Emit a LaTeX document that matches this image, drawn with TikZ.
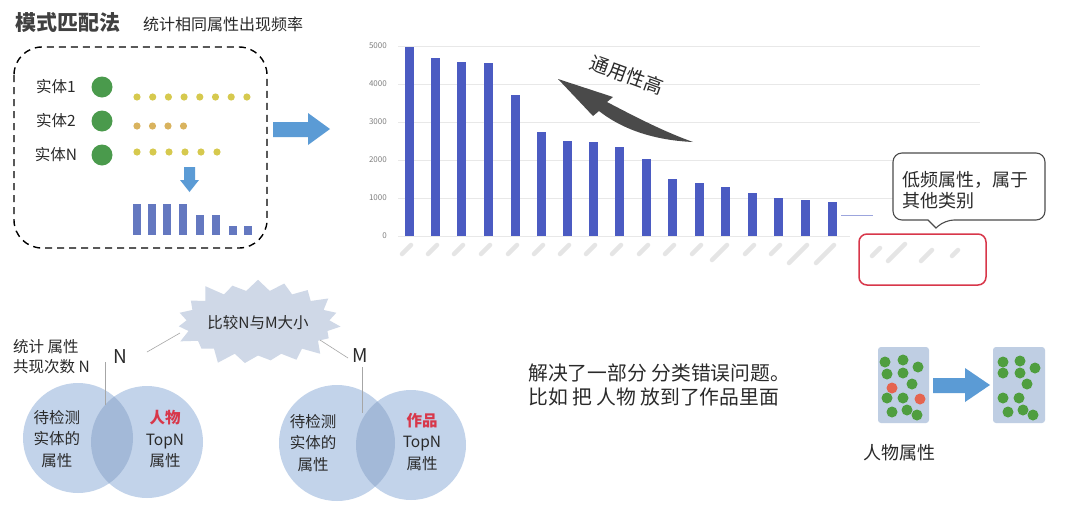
\documentclass[tikz,border=0pt]{standalone}
\usepackage{fontspec}
\setmainfont{Noto Sans CJK SC}
\usetikzlibrary{shapes.symbols}
\definecolor{barblue}{HTML}{4B5BC2}
\definecolor{smallbar}{HTML}{6478C0}
\definecolor{arrblue}{HTML}{5B9BD5}
\definecolor{dotgreen}{HTML}{4A9A4C}
\definecolor{dotyel}{HTML}{D6C94E}
\definecolor{dotorg}{HTML}{D9B35E}
\definecolor{venn}{HTML}{C2D3EA}
\definecolor{vennd}{HTML}{A3B9D8}
\definecolor{burst}{HTML}{CFD8E7}
\definecolor{redbox}{HTML}{D8374A}
\definecolor{txt}{HTML}{2A2A2A}
\definecolor{arrgray}{HTML}{4A4A4A}
\definecolor{cont}{HTML}{BFCEE3}
\definecolor{cgreen}{HTML}{4F9E3F}
\definecolor{cred}{HTML}{E5644F}
\newcommand\fz[2]{\fontsize{#1}{#2}\selectfont}
\begin{document}
\begin{tikzpicture}[x=1pt,y=-1pt,
  every node/.style={inner sep=0pt, text=txt},
  thinline/.style={draw=gray!70, line width=0.6pt},
  xlab/.style={draw=gray!20, line width=4.5pt, line cap=round},
  grid/.style={draw=gray!18, line width=1pt},
  ydot/.style={fill=dotyel},
  cdot/.style={fill=cgreen},
  rdot/.style={fill=cred}]
\useasboundingbox (0,0) rectangle (1080,509);
\fill[white] (0,0) rectangle (1080,509);

% ---------- title ----------
\node[anchor=west, font=\fz{21}{24}\bfseries, text=black!75] (title) at (15,22) {模式匹配法};
\node[anchor=west, font=\fz{16}{18}] (subtitle) at (143,24) {统计相同属性出现频率};

% ---------- dashed box ----------
\draw[line width=1.4pt, dash pattern=on 7pt off 5pt, rounded corners=28pt] (14,47) rectangle (267,248);
\foreach \i/\y in {1/87,2/121,N/155}{
  \node[font=\fz{15.5}{18}] (e\i) at (56,\y) {实体\i};
  \node[circle, fill=dotgreen, minimum size=21pt] (c\i) at (102,\y) {};
}
\foreach \k in {0,...,7} \fill[ydot] (137+\k*15.7,97) circle (3.6pt);
\foreach \k in {0,...,3} \fill[dotorg] (137+\k*15.5,126) circle (3.6pt);
\foreach \k in {0,...,5} \fill[ydot] (137+\k*16,152) circle (3.6pt);
\fill[arrblue] (184,167) -- (195,167) -- (195,180) -- (199,180) -- (189.5,192) -- (180,180) -- (184,180) -- cycle;
\foreach \x/\t in {137/204,152/204,167/204,183/204,200/215,216/215,233/226,248/226}
  \fill[smallbar] (\x-3.6,\t) rectangle (\x+3.6,235);
\fill[arrblue] (273,122) -- (308,122) -- (308,113) -- (330,129) -- (308,145) -- (308,137) -- (273,137) -- cycle;

% ---------- bar chart ----------
\foreach \v/\y in {5000/46,4000/84,3000/122,2000/160,1000/198}{
  \draw[grid] (398,\y) -- (980,\y);
  \node[anchor=east, font=\fz{8}{9}, text=gray] at (387,\y) {\v};
}
\node[anchor=east, font=\fz{8}{9}, text=gray] at (387,236) {0};
\draw[grid] (398,236) -- (850,236);
\foreach \x/\t in {409/47,435/58,461/62,488/63,515/95,541/132,567/141,593/142,619/147,646/159,672/179,699/183,725/187,752/193,778/198,805/200,832/202}
  \fill[barblue] (\x-4.5,\t) rectangle (\x+4.5,236);
\draw[barblue!55, line width=0.8pt] (841,215) -- (873,215);
\foreach \x/\l in {409/9,435/9,461/9,488/9,515/9,541/9,567/9,593/9,619/9,646/9,672/9,699/9,725/15,752/9,778/9,805/18,832/18}
  \draw[xlab] (\x+2,245) -- ++(-\l,\l);
\foreach \x/\y/\l in {880/248/8,905/244/17,932/250/11,958/250/6}
  \draw[xlab] (\x,\y) -- ++(-\l,\l);
\draw[redbox, line width=1.5pt, rounded corners=8pt] (859,234) rectangle (986,285);

% callout
\draw[gray!60!black, line width=1.1pt, fill=white, rounded corners=9pt]
  (893,153) -- (1045,153) -- (1045,220) -- (945,220) [sharp corners] -- (936,228) -- (928,220) [rounded corners=9pt] -- (893,220) -- cycle;
\node[anchor=west, align=left, font=\fz{18}{21}] (callout) at (902,190) {低频属性，属于\\其他类别};

% generality arrow
\fill[arrgray] (558,79) -- (593,116) -- (599,111) .. controls (618,126) and (648,140) .. (693,142)
  .. controls (662,131) and (630,114) .. (607,102) -- (613,97) -- cycle;
\node[rotate=-20, font=\fz{19}{22}] (gen) at (627,75) {通用性高};

% ---------- bottom left ----------
\node[starburst, fill=burst, draw=none, minimum width=170pt, minimum height=95pt,
  starburst points=19, starburst point height=15pt, font=\fz{15.5}{18}] (cmp) at (258,323) {比较N与M大小};
\node[anchor=west, align=left, font=\fz{15.5}{20}] (stat) at (13,357) {统计 属性\\共现次数 N};
\node[font=\fz{19}{22}] (N) at (120,357) {N};
\node[font=\fz{19}{22}] (M) at (360,356) {M};

% venn 1
\node[circle, fill=venn, minimum size=110pt] (v1a) at (78,438) {};
\node[circle, fill=venn, minimum size=112pt] (v1b) at (147,442) {};
\begin{scope}
  \clip (78,438) circle (55pt);
  \fill[vennd] (147,442) circle (56pt);
\end{scope}
\node[align=center, font=\fz{15.5}{21.5}] (t1a) at (57,439) {待检测\\实体的\\属性};
\node[align=center, font=\fz{15.5}{21.5}] (t1b) at (165,439) {\textcolor{redbox}{\bfseries 人物}\\TopN\\属性};

% venn 2
\node[circle, fill=venn, minimum size=116pt] (v2a) at (337,443) {};
\node[circle, fill=venn, minimum size=110pt] (v2b) at (411,445) {};
\begin{scope}
  \clip (337,443) circle (58pt);
  \fill[vennd] (411,445) circle (55pt);
\end{scope}
\node[align=center, font=\fz{15.5}{21.5}] (t2a) at (313,443) {待检测\\实体的\\属性};
\node[align=center, font=\fz{15.5}{21.5}] (t2b) at (422,442) {\textcolor{redbox}{\bfseries 作品}\\TopN\\属性};

\coordinate (nl1) at (147,352); \coordinate (nl2) at (180,333);
\coordinate (nv1) at (105,362); \coordinate (nv2) at (105,405);
\coordinate (ml1) at (320,340); \coordinate (ml2) at (348,358);
\coordinate (mv1) at (362,367); \coordinate (mv2) at (362,413);
\draw[thinline] (nl1) -- (nl2);
\draw[thinline] (nv1) -- (nv2);
\draw[thinline] (ml1) -- (ml2);
\draw[thinline] (mv1) -- (mv2);

% ---------- bottom right ----------
\node[anchor=west, align=left, font=\fz{19.8}{24}] (sol) at (528,385) {解决了一部分 分类错误问题。\\比如 把 人物 放到了作品里面};
\fill[cont, rounded corners=3pt] (878,347) rectangle (929,423);
\fill[cont, rounded corners=3pt] (993,347) rectangle (1045,423);
\foreach \x/\y in {885/362,903/360,918/367,887/374,903/373,912/384,887/398,903/398,892/412,907/410,917/415}
  \fill[cdot] (\x,\y) circle (5.5pt);
\foreach \x/\y in {892/388,920/399}
  \fill[rdot] (\x,\y) circle (5.5pt);
\foreach \x/\y in {1003/362,1020/361,1035/368,1003/373,1020/373,1027/384,1003/398,1019/398,1008/412,1023/410,1033/415}
  \fill[cdot] (\x,\y) circle (5.5pt);
\fill[arrblue] (933,378) -- (965,378) -- (965,368) -- (990,385) -- (965,402) -- (965,393) -- (933,393) -- cycle;
\node[font=\fz{18}{21}] (pa) at (899,453) {人物属性};
\end{tikzpicture}
\end{document}
